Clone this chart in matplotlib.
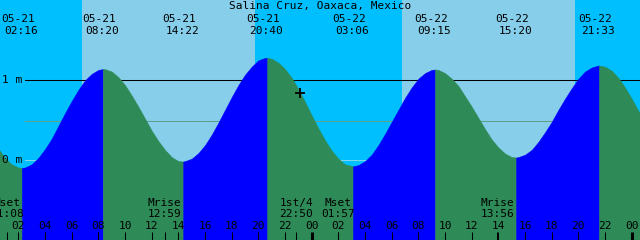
import numpy as np
import matplotlib
matplotlib.use("Agg")
import matplotlib.pyplot as plt
from matplotlib.transforms import offset_copy

# =====================================
# Data
# =====================================

title = "Salina Cruz, Oaxaca, Mexico"

# high / low tides
tide_dates = ["05-21", "05-21", "05-21", "05-21", "05-22", "05-22", "05-22", "05-22"]
tide_times = ["02:16", "08:20", "14:22", "20:40", "03:06", "09:15", "15:20", "21:33"]
tide_levels = [-0.105, 1.13, -0.025, 1.27, -0.085, 1.125, 0.025, 1.175]

# water level every half hour (m), hour 0 = 05-21 00:00, from -1 h to 49 h
level_hours = [k / 2 for k in range(-2, 99)]
levels = [
    0.59, 0.43, 0.27, 0.135, 0.02, -0.06, -0.10, -0.10, -0.06, 0.02,
    0.13, 0.26, 0.42, 0.58, 0.73, 0.87, 0.99, 1.07, 1.12, 1.13,
    1.10, 1.03, 0.93, 0.80, 0.66, 0.51, 0.36, 0.23, 0.12, 0.03,
    -0.02, -0.02, 0.01, 0.08, 0.18, 0.31, 0.46, 0.62, 0.78, 0.93,
    1.06, 1.16, 1.24, 1.27, 1.26, 1.21, 1.13, 1.02, 0.88, 0.72,
    0.55, 0.39, 0.24, 0.11, 0.01, -0.06, -0.08, -0.07, -0.02, 0.06,
    0.18, 0.32, 0.47, 0.62, 0.77, 0.90, 1.01, 1.08, 1.12, 1.12,
    1.08, 1.01, 0.92, 0.79, 0.66, 0.52, 0.38, 0.25, 0.15, 0.075,
    0.03, 0.03, 0.06, 0.12, 0.22, 0.34, 0.47, 0.62, 0.76, 0.89,
    1.01, 1.10, 1.15, 1.175, 1.16, 1.11, 1.02, 0.90, 0.76, 0.61,
    0.45,
]

sunrise = [("05-21", "06:46"), ("05-22", "06:46")]
sunset = [("05-21", "19:45"), ("05-22", "19:45")]

moon_names = ["Mset", "Mrise", "1st/4", "Mset", "Mrise"]
moon_dates = ["05-21", "05-21", "05-21", "05-22", "05-22"]
moon_times = ["01:08", "12:59", "22:50", "01:57", "13:56"]

hour_ticks = list(range(2, 49, 2))
hour_labels = ["%02d" % (h % 24) for h in hour_ticks]

level_marks = [1.0, 0.0]
level_labels = ["1 m", "0 m"]
msl_level = 0.4875

now_date, now_time, now_level = "05-21", "23:07", 0.83


def to_hours(date, hm):
    day = int(date[3:]) - 21
    h, m = hm.split(":")
    return day * 24 + int(h) + int(m) / 60


tide_hours = [to_hours(d, t) for d, t in zip(tide_dates, tide_times)]

# =====================================
# Colours
# =====================================

night_c = "#00bfff"
day_c = "#87ceeb"
flood_c = "#0000ff"
ebb_c = "#2e8b57"

# =====================================
# Plot
# =====================================

fig = plt.figure(figsize=(6.4, 2.4), dpi=100)
ax = fig.add_axes([0, 0, 1, 1])
ax.set_axis_off()

# left edge of the chart is 00:37 on 05-21, 48 hours wide
x0 = 8.3 / 13.333

# sky
ax.axvspan(x0 - 1, x0 + 49, color=night_c, lw=0, zorder=0)
for (d1, t1), (d2, t2) in zip(sunrise, sunset):
    ax.axvspan(to_hours(d1, t1), to_hours(d2, t2), color=day_c, lw=0, zorder=0)

# level lines (hidden behind the water)
ax.axhline(1.0, xmin=25 / 640, xmax=1, color="black", lw=0.75, zorder=1)
ax.axhline(msl_level, xmin=25 / 640, xmax=1, color="#5fa08a", lw=0.75, zorder=1)
ax.axhline(0.0, xmin=25 / 640, xmax=1, color="#80d4ec", lw=0.75, zorder=1)

# water
T = np.array(level_hours + tide_hours, dtype=float)
H = np.array(levels + tide_levels, dtype=float)
order = np.argsort(T)
T, H = T[order], H[order]

bounds = [T[0]] + tide_hours + [T[-1]]
bottom = -1.1
for a, b in zip(bounds[:-1], bounds[1:]):
    m = (T >= a) & (T <= b)
    rising = H[m][-1] > H[m][0]
    c = flood_c if rising else ebb_c
    ax.fill_between(T[m], H[m], bottom, color=c, ec=c, lw=0.4, zorder=2)

# current time
ax.plot(to_hours(now_date, now_time), now_level, marker="+", color="black",
        ms=7, mew=1.3, zorder=4)

# =====================================
# Text
# =====================================

font = dict(family="DejaVu Sans Mono", fontsize=8, color="black", zorder=5)
xt = ax.get_xaxis_transform()

def ypix(py):
    return 1 - py / 240

ax.text(0.5, ypix(9.3), title, transform=ax.transAxes, ha="center", va="baseline", **font)

date_tr = offset_copy(xt, fig=fig, x=-4, y=0, units="dots")
time_tr = offset_copy(xt, fig=fig, x=-1, y=0, units="dots")
for th, d, t in zip(tide_hours, tide_dates, tide_times):
    ax.text(th, ypix(21.7), d, transform=date_tr, ha="center", va="baseline", **font)
    ax.text(th, ypix(34), t, transform=time_tr, ha="center", va="baseline", **font)

for lv, lab in zip(level_marks, level_labels):
    ax.text(1.5 / 640, lv, lab, transform=ax.get_yaxis_transform(),
            ha="left", va="center", **font)

for name, d, t in zip(moon_names, moon_dates, moon_times):
    mh = to_hours(d, t)
    ax.text(mh, ypix(206), name, transform=xt, ha="center", va="baseline", **font)
    ax.text(mh, ypix(217.3), t, transform=xt, ha="center", va="baseline", **font)
    ax.vlines(mh, 0, 8 / 240, transform=xt, color="black", lw=0.75, zorder=5)

for h, lab in zip(hour_ticks, hour_labels):
    ax.text(h, ypix(229.3), lab, transform=xt, ha="center", va="baseline", **font)
    lw = 2.2 if h % 24 == 0 else 0.75
    ax.vlines(h, 0, 8 / 240, transform=xt, color="black", lw=lw, zorder=5)

# fix the view last so nothing above can change it
ax.set_xlim(x0, x0 + 48)
ax.set_ylim(-1.006, 1.994)

fig.savefig("out.png", dpi=100)
